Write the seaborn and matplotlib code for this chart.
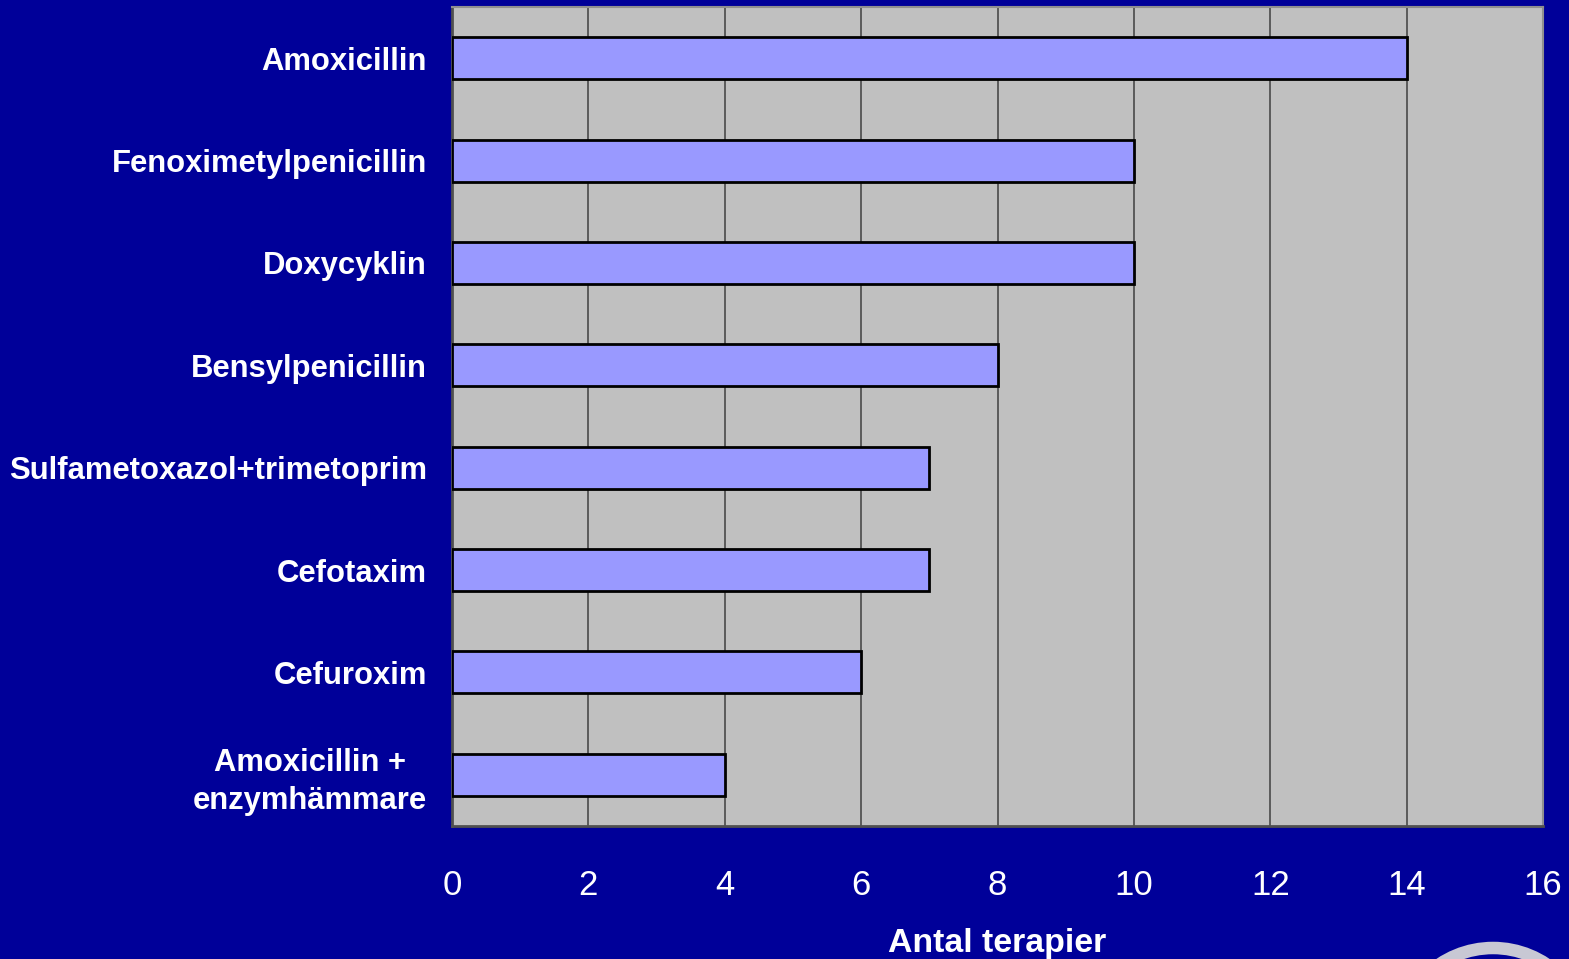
import matplotlib
matplotlib.use("Agg")
import matplotlib.pyplot as plt
import matplotlib.patches as mpatches
import seaborn as sns
import pandas as pd

# Number of therapies per antibiotic
drugs = [
    "Amoxicillin",
    "Fenoximetylpenicillin",
    "Doxycyklin",
    "Bensylpenicillin",
    "Sulfametoxazol+trimetoprim",
    "Cefotaxim",
    "Cefuroxim",
    "Amoxicillin +\nenzymhämmare",
]
therapies = [14, 10, 10, 8, 7, 7, 6, 4]
x_ticks = [0, 2, 4, 6, 8, 10, 12, 14, 16]

BG = "#000099"
PANEL = "#C0C0C0"
BAR = "#9999FF"

sns.set_style("white")
plt.rcParams["font.family"] = ["Liberation Sans", "DejaVu Sans"]

df = pd.DataFrame({"drug": drugs, "n": therapies})

fig = plt.figure(figsize=(15.69, 9.59), dpi=100, facecolor=BG)
ax = fig.add_axes([452 / 1569, 1 - 826 / 959, (1543 - 452) / 1569, (826 - 7) / 959])
ax.set_facecolor(PANEL)

sns.barplot(data=df, x="n", y="drug", orient="h", color=BAR, width=0.41,
            edgecolor="black", linewidth=2, saturation=1, ax=ax, zorder=3)

ax.set_xlim(0, 16)
ax.set_ylim(len(drugs) - 0.5, -0.5)
ax.set_xticks(x_ticks)
ax.set_xticklabels([str(t) for t in x_ticks])
ax.xaxis.grid(True, color="#4a4a4a", linewidth=1.2, zorder=0)
ax.set_axisbelow(True)

for side in ["top", "right"]:
    ax.spines[side].set_color("#909090")
    ax.spines[side].set_linewidth(1.5)
for side in ["left", "bottom"]:
    ax.spines[side].set_color("#505050")
    ax.spines[side].set_linewidth(2)

ax.tick_params(axis="x", direction="out", length=9, width=1.3, color="black",
               labelsize=25, labelcolor="white", pad=22)
ax.tick_params(axis="y", length=0, labelsize=22.3, labelcolor="white", pad=18)
for lbl in ax.get_yticklabels():
    lbl.set_fontweight("bold")
    lbl.set_horizontalalignment("right")
    lbl.set_multialignment("center")
    lbl.set_linespacing(1.33)

ax.set_ylabel("")
ax.set_xlabel("Antal terapier", fontsize=24.4, fontweight="bold", color="white",
              labelpad=19)

# Decorative ring at the lower right corner
ring = mpatches.Circle((1493, -85), 96, transform=None, fill=False,
                       edgecolor="#C8C8D4", linewidth=9, clip_on=False)
fig.patches.append(ring)

fig.savefig("out.png", dpi=100, facecolor=BG)
